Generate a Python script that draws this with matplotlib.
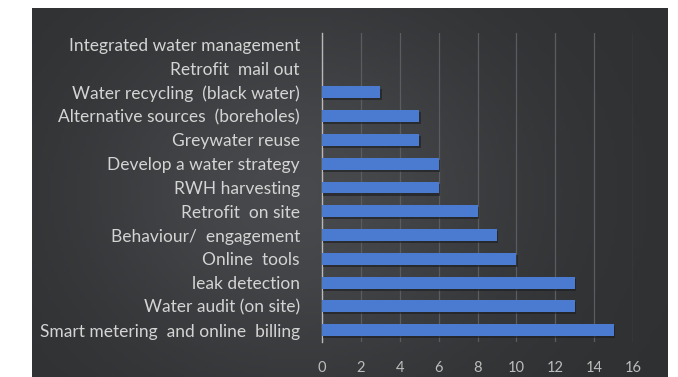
import matplotlib
matplotlib.use('Agg')
import matplotlib.pyplot as plt
import matplotlib.patheffects as pe
import numpy as np

# 데이터 (위에서 아래 순서)
measures = ['Integrated water management', 'Retrofit  mail out',
            'Water recycling  (black water)', 'Alternative sources  (boreholes)',
            'Greywater reuse', 'Develop a water strategy', 'RWH harvesting',
            'Retrofit  on site', 'Behaviour/  engagement', 'Online  tools',
            'leak detection', 'Water audit (on site)',
            'Smart metering  and online  billing']
counts = [0, 0, 3, 5, 5, 6, 6, 8, 9, 10, 13, 13, 15]
x_ticks = [0, 2, 4, 6, 8, 10, 12, 14, 16]

plt.rcParams['font.family'] = ['Lato', 'DejaVu Sans']

fig = plt.figure(figsize=(6.78, 3.77), dpi=100)
fig.patch.set_facecolor('white')

# 어두운 배경 패널 (그라데이션)
bg = fig.add_axes([32 / 678, 0, 636 / 678, 1 - 8 / 377])
gx = np.linspace(0, 1, 200)
gy = np.linspace(0, 1, 120)
X, Y = np.meshgrid(gx, gy)
light = 0.19 + 0.10 * np.exp(-((X - 0.42) ** 2) / 0.12 - ((Y - 0.5) ** 2) / 0.25)
img = np.dstack([light * 0.97, light * 0.99, light * 1.03])
bg.imshow(np.clip(img, 0, 1), aspect='auto', extent=[0, 1, 0, 1])
bg.axis('off')

ax = fig.add_axes([322 / 678, 1 - 342 / 377, (633 - 322) / 678, (342 - 33) / 377])
ax.patch.set_alpha(0)

y = np.arange(len(measures))[::-1]
ax.barh(y, counts, height=0.5, color='#4a7bd0', zorder=3,
        path_effects=[pe.SimplePatchShadow(offset=(1, -1.5), shadow_rgbFace='#1a1c1f', alpha=0.6),
                      pe.Normal()])

ax.set_xlim(0, 16)
ax.set_ylim(-0.5, len(measures) - 0.5)
ax.set_xticks(x_ticks)
ax.set_yticks(y)
ax.set_yticklabels(measures)

ax.grid(axis='x', color='#5a5c60', linewidth=0.9, zorder=0)
for s in ['top', 'right', 'bottom']:
    ax.spines[s].set_visible(False)
ax.spines['left'].set_color('#b8b8b8')
ax.spines['left'].set_linewidth(1)

ax.tick_params(axis='y', length=0, pad=16, labelsize=12.5, labelcolor='#d4d4d4')
ax.tick_params(axis='x', length=0, pad=14, labelsize=10.5, labelcolor='#bdbdbd')

plt.savefig('out.png', dpi=100, facecolor=fig.get_facecolor())
